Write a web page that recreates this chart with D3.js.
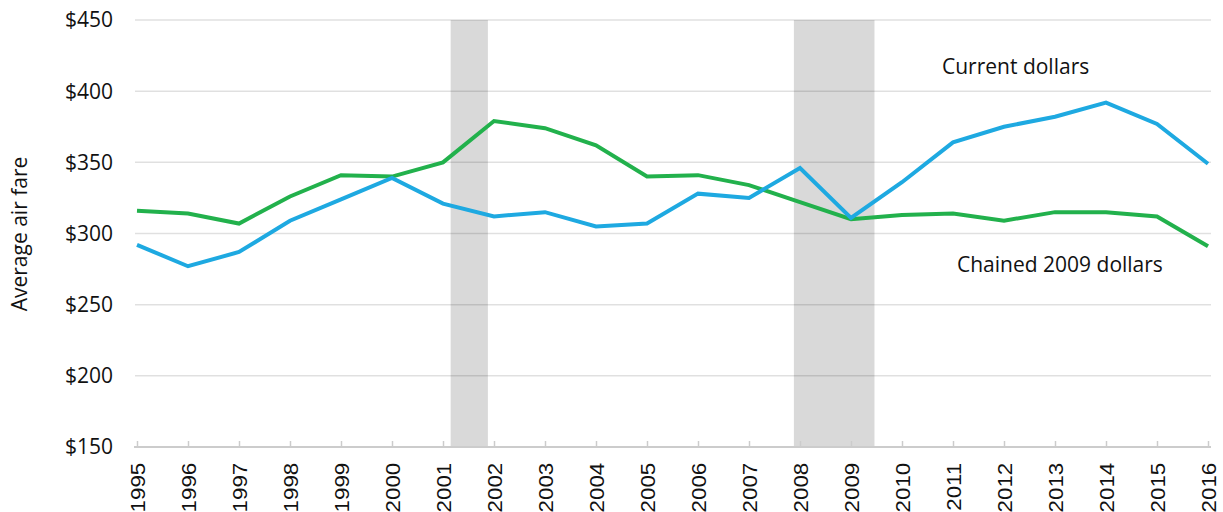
<!DOCTYPE html>
<html>
<head>
<meta charset="utf-8">
<script src="https://cdn.jsdelivr.net/npm/d3@7"></script>
<style>
  body { margin: 0; background: #fff; }
  svg text { font-family: "Open Sans", sans-serif; fill: #111; }
</style>
</head>
<body>
<script>
// data
var years = d3.range(1995, 2017);
var currentDollars = [292, 277, 287, 309, 324, 339, 321, 312, 315, 305, 307, 328, 325, 346, 311, 336, 364, 375, 382, 392, 377, 349];
var chained2009 = [316, 314, 307, 326, 341, 340, 350, 379, 374, 362, 340, 341, 334, 322, 310, 313, 314, 309, 315, 315, 312, 291];
var yTicks = [150, 200, 250, 300, 350, 400, 450];
var recessions = [[2001.15, 2001.88], [2007.88, 2009.46]];

var w = 1223, h = 512;
var margin = {top: 20, right: 15, bottom: 65, left: 137};

var svg = d3.select("body").append("svg")
  .attr("width", w)
  .attr("height", h);

var x = d3.scaleLinear()
  .domain([1995, 2016])
  .range([margin.left, 1208]);
var y = d3.scaleLinear()
  .domain([150, 450])
  .range([447, margin.top]);

//Recession shading
svg.selectAll("rect.rec")
  .data(recessions)
  .enter()
  .append("rect")
    .attr("class", "rec")
    .attr("x", (d) => x(d[0]))
    .attr("width", (d) => x(d[1]) - x(d[0]))
    .attr("y", y(450))
    .attr("height", y(150) - y(450))
    .attr("fill", "#d9d9d9");

//Gridlines
svg.selectAll("line.grid")
  .data(yTicks.slice(1))
  .enter()
  .append("line")
    .attr("class", "grid")
    .attr("x1", 135)
    .attr("x2", 1211)
    .attr("y1", (d) => y(d))
    .attr("y2", (d) => y(d))
    .attr("stroke", "#000")
    .attr("stroke-opacity", 0.12)
    .attr("stroke-width", 1.5);

//Y labels
svg.selectAll("text.ylab")
  .data(yTicks)
  .enter()
  .append("text")
    .attr("class", "ylab")
    .attr("x", 113)
    .attr("y", (d) => y(d))
    .attr("dy", "0.35em")
    .attr("text-anchor", "end")
    .style("font-size", "21px")
    .text((d) => "$" + d);

svg.append("text")
  .attr("transform", "translate(27," + 234 + ") rotate(-90)")
  .attr("text-anchor", "middle")
  .style("font-size", "21px")
  .text("Average air fare");

//X axis
var xAxis = svg.append("g")
  .attr("transform", "translate(0," + y(150) + ")")
  .call(d3.axisBottom(x).tickValues(years).tickFormat(d3.format("d")).tickSize(-6).tickSizeOuter(0));
xAxis.select(".domain").attr("stroke", "#ccc").attr("stroke-width", 2)
  .attr("d", "M134,0H1211");
xAxis.selectAll(".tick line").attr("stroke", "#ccc").attr("stroke-width", 1.5);
xAxis.selectAll(".tick text")
  .attr("transform", "rotate(-90) scale(1.12,1)")
  .attr("x", -14)
  .attr("y", 0)
  .attr("dy", "0.35em")
  .attr("text-anchor", "end")
  .style("font-family", "'Liberation Sans', Arial, sans-serif")
  .style("font-size", "20px")
  .attr("fill", "#111");

//Lines
var line = d3.line()
  .x((d, i) => x(years[i]))
  .y((d) => y(d));

svg.append("path")
  .datum(chained2009)
  .attr("d", line)
  .attr("fill", "none")
  .attr("stroke", "#22b14c")
  .attr("stroke-width", 4);

svg.append("path")
  .datum(currentDollars)
  .attr("d", line)
  .attr("fill", "none")
  .attr("stroke", "#1ea9e1")
  .attr("stroke-width", 4);

//Labels
svg.append("text")
  .attr("x", 942)
  .attr("y", 74)
  .style("font-size", "21px")
  .text("Current dollars");
svg.append("text")
  .attr("x", 957)
  .attr("y", 272)
  .style("font-size", "21px")
  .text("Chained 2009 dollars");
</script>
</body>
</html>
